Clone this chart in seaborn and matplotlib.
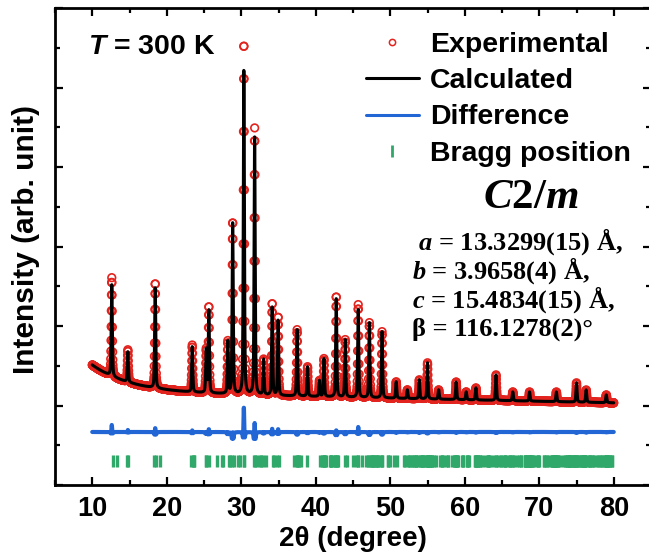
import numpy as np
import pandas as pd
import matplotlib
matplotlib.use("Agg")
import matplotlib.pyplot as plt
import seaborn as sns
from matplotlib.lines import Line2D
from matplotlib.ticker import MultipleLocator, NullFormatter

# ---------------------------------------------------------------- data
# Reflections of the pattern: centre (deg 2θ), calculated and observed height above background (a.u.)
peak_2theta = [12.62, 14.78, 18.45, 23.42, 25.30, 25.65, 28.20, 28.85, 30.35, 31.80,
               33.00, 34.15, 34.95, 37.50, 38.90, 40.50, 41.10, 42.75, 43.96, 45.70,
               47.20, 48.90, 50.80, 52.30, 53.90, 55.00, 56.50, 58.85, 60.20, 61.50,
               64.20, 66.45, 68.70, 72.30, 75.00, 76.30, 79.00]
calc_height = [1150, 380, 1275, 570, 540, 1047, 656, 2170, 4115, 3238,
               445, 1118, 953, 834, 371, 200, 477, 1248, 721, 1103,
               942, 833, 207, 109, 238, 454, 117, 222, 99, 152,
               321, 111, 115, 122, 242, 155, 98]
obs_height = [1238, 405, 1325, 590, 540, 1085, 656, 2170, 4430, 3351,
              445, 1160, 990, 834, 371, 200, 477, 1270, 721, 1166,
              942, 833, 207, 109, 238, 454, 117, 222, 99, 152,
              321, 111, 115, 122, 242, 155, 98]

# Background (a.u.): level, linear slope per degree, low-angle rise and its decay length (deg)
bg_level, bg_slope, bg_lowangle, bg_decay = 170.0, -1.95, 340.0, 5.16

# Peak shape: pseudo-Voigt widths (deg) and Lorentzian fraction
fwhm_calc, fwhm_obs, lorentz_frac = 0.17, 0.16, 0.4

# Refined monoclinic cell (space group C2/m) and Cu Kα1 wavelength (Å)
cell_a, cell_b, cell_c, cell_beta = 13.3299, 3.9658, 15.4834, 116.1278
wavelength = 1.5406

# Vertical placement of the difference curve and the Bragg markers (a.u.)
diff_offset = -333
bragg_level = -700

two_theta = np.arange(10.0, 80.0001, 0.02)


# ---------------------------------------------------------------- profiles
def pseudo_voigt(x, x0, fwhm):
    u = (x - x0) / fwhm
    return lorentz_frac / (1 + 4 * u ** 2) + (1 - lorentz_frac) * np.exp(-4 * np.log(2) * u ** 2)


def pattern(heights, fwhm):
    y = bg_level + bg_slope * (two_theta - 10) + bg_lowangle * np.exp(-(two_theta - 10) / bg_decay)
    for pos, h in zip(peak_2theta, heights):
        y = y + h * pseudo_voigt(two_theta, pos, fwhm)
    return y


def bragg_positions():
    beta = np.radians(cell_beta)
    h, k, l = np.meshgrid(np.arange(-12, 13), np.arange(0, 5), np.arange(-16, 17), indexing="ij")
    h, k, l = h.ravel(), k.ravel(), l.ravel()
    keep = ((h + k) % 2 == 0) & ~((h == 0) & (k == 0) & (l == 0))
    h, k, l = h[keep], k[keep], l[keep]
    inv_d2 = (h ** 2 / cell_a ** 2 + k ** 2 * np.sin(beta) ** 2 / cell_b ** 2 + l ** 2 / cell_c ** 2
              - 2 * h * l * np.cos(beta) / (cell_a * cell_c)) / np.sin(beta) ** 2
    s = wavelength * np.sqrt(inv_d2) / 2
    s = s[s < 1]
    tt = np.unique(np.round(2 * np.degrees(np.arcsin(s)), 3))
    return tt[(tt >= 10) & (tt <= 80)]


calc = pattern(calc_height, fwhm_calc)
obs = pattern(obs_height, fwhm_obs)
df = pd.DataFrame({"two_theta": two_theta, "obs": obs, "calc": calc,
                   "diff": obs - calc + diff_offset})
bragg = pd.DataFrame({"two_theta": bragg_positions()})
bragg["y"] = bragg_level

# ---------------------------------------------------------------- styling
sns.set_theme(style="ticks")
plt.rcParams.update({
    "font.family": ["Liberation Sans", "DejaVu Sans"],
    "font.weight": "bold",
    "text.color": "black",
    "axes.labelcolor": "black",
    "axes.edgecolor": "black",
    "xtick.color": "black",
    "ytick.color": "black",
    "mathtext.fontset": "custom",
    "mathtext.it": "Liberation Serif:italic:bold",
    "mathtext.rm": "Liberation Serif:bold",
    "mathtext.sf": "Liberation Sans:italic:bold",
})

RED, BLUE, GREEN = "#e3241e", "#2266d6", "#2fa86a"

fig = plt.figure(figsize=(6.49, 5.56), dpi=100)
ax = fig.add_axes([55 / 649, 71 / 556, 596 / 649, 477 / 556])

sns.scatterplot(data=df, x="two_theta", y="obs", ax=ax, marker="o", s=30,
                facecolor="none", edgecolor=RED, linewidth=1.2, zorder=2, legend=False)
sns.lineplot(data=df, x="two_theta", y="calc", ax=ax, color="black", lw=2.2, zorder=3)
sns.lineplot(data=df, x="two_theta", y="diff", ax=ax, color=BLUE, lw=3.0, zorder=3)
sns.scatterplot(data=bragg, x="two_theta", y="y", ax=ax, marker="|", s=80,
                color=GREEN, linewidth=2.4, zorder=3, legend=False)

ax.set_xlim(5, 85)
ax.set_ylim(-1000, 5000)
ax.xaxis.set_major_locator(MultipleLocator(10))
ax.xaxis.set_minor_locator(MultipleLocator(5))
ax.yaxis.set_major_locator(MultipleLocator(1000))
ax.yaxis.set_minor_locator(MultipleLocator(500))
ax.yaxis.set_major_formatter(NullFormatter())
ax.tick_params(which="both", direction="in", top=True, right=True, width=1.6)
ax.tick_params(which="major", length=6)
ax.tick_params(which="minor", length=3.5)
ax.tick_params(axis="x", which="major", labelsize=19.5, pad=8)
for sp in ax.spines.values():
    sp.set_linewidth(2.0)

ax.set_xlabel("2θ (degree)", fontsize=20, fontweight="bold", labelpad=3)
ax.set_ylabel("Intensity (arb. unit)", fontsize=21.5, fontweight="bold")
ax.yaxis.set_label_coords(-0.026, 0.514)

# legend
handles = [
    Line2D([], [], ls="none", marker="o", ms=4.5, mfc="none", mec=RED, mew=1.1),
    Line2D([], [], color="black", lw=2.2),
    Line2D([], [], color=BLUE, lw=2.2),
    Line2D([], [], ls="none", marker="|", ms=8, mec=GREEN, mew=2.0),
]
labels = ["Experimental", "Calculated", "Difference", "Bragg position"]
fig.legend(handles, labels, loc="upper left", bbox_to_anchor=(366 / 649, 1 - 32 / 556),
           frameon=False, borderpad=0, borderaxespad=0, handlelength=1.85,
           handletextpad=0.4, labelspacing=0.36,
           prop={"family": "Liberation Sans", "weight": "bold", "size": 20.5})

# annotations
fig.text(88 / 649, 1 - 47 / 556, r"$\mathsf{T}$ = 300 K", fontsize=20.5, fontweight="bold",
         family="Liberation Sans", va="center", ha="left")
fig.text(531 / 649, 1 - 198 / 556, r"$C$2/$m$", fontsize=31, fontweight="bold",
         family="Liberation Serif", va="center", ha="center")
cell_lines = [r" $a$ = 13.3299(15) Å,", r"$b$ = 3.9658(4) Å,",
              r"$c$ = 15.4834(15) Å,", r"β = 116.1278(2)°"]
for i, line in enumerate(cell_lines):
    fig.text(412 / 649, 1 - (242 + 29 * i) / 556, line, fontsize=19, fontweight="bold",
             family="Liberation Serif", va="center", ha="left")

fig.savefig("out.png", dpi=100)
